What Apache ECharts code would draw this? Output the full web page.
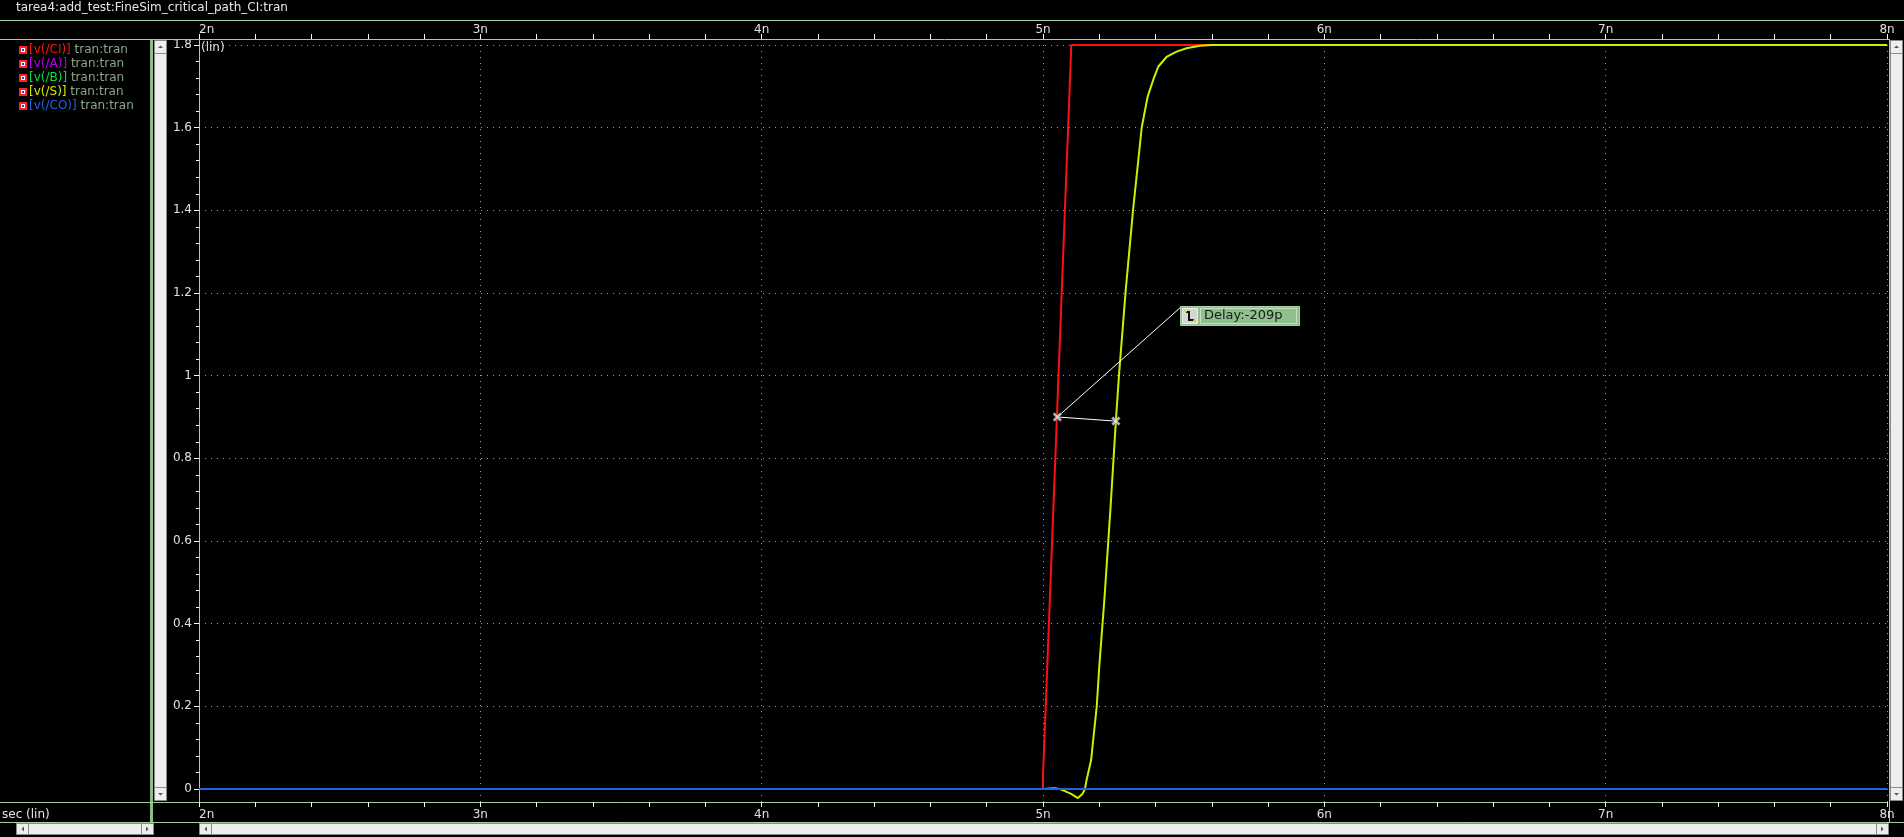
<!DOCTYPE html>
<html>
<head>
<meta charset="utf-8">
<title>tarea4:add_test:FineSim_critical_path_CI:tran</title>
<script src="https://cdn.jsdelivr.net/npm/echarts@6/dist/echarts.min.js"></script>
<style>
html, body { margin: 0; padding: 0; background: #000; }
#chart { width: 1904px; height: 837px; }
</style>
</head>
<body>
<div id="chart"></div>
<script>
// values (time in ns, volts)
var titleText = 'tarea4:add_test:FineSim_critical_path_CI:tran';
var xTicks = [2, 3, 4, 5, 6, 7, 8];
var yTicks = [0, 0.2, 0.4, 0.6, 0.8, 1, 1.2, 1.4, 1.6, 1.8];

var sigNames = ['v(/CI)', 'v(/A)', 'v(/B)', 'v(/S)', 'v(/CO)'];
var sigColors = ['#ff1010', '#b400f0', '#00e050', '#d2ee00', '#1e64e6'];
var sigSuffix = 'tran:tran';

var ciT = [2, 5.0, 5.0, 5.1006, 8];
var ciV = [0, 0, 0.03, 1.8, 1.8];
var aT = [2, 8];
var aV = [0, 0];
var bT = [2, 8];
var bV = [0, 0];
var sT = [2, 5.0, 5.04, 5.06, 5.078, 5.10, 5.124, 5.14, 5.149, 5.155, 5.171, 5.181, 5.191, 5.200, 5.209, 5.218, 5.24, 5.259, 5.270, 5.294, 5.32, 5.351, 5.372, 5.392, 5.41, 5.439, 5.475, 5.51, 5.558, 5.6, 8];
var sV = [0, 0, 0.002, 0, -0.005, -0.012, -0.022, -0.012, 0, 0.022, 0.07, 0.135, 0.2, 0.296, 0.377, 0.457, 0.68, 0.89, 1.0, 1.207, 1.40, 1.601, 1.675, 1.716, 1.748, 1.771, 1.784, 1.792, 1.798, 1.8, 1.8];
var coT = [2, 8];
var coV = [0, 0];

// delay measurement
var delayT = [5.051, 5.259];
var delayV = [0.9, 0.89];
var delayLabelAt = [5.487, 1.164];
var delayText = 'Delay:-209p';

var green = '#a3cfa0';
var font = 'DejaVu Sans';

function pairs(t, v) {
    var out = [];
    for (var i = 0; i < t.length; i++) out.push([t[i], v[i]]);
    return out;
}

var yMinor = [];
for (var i = 1; i < 46; i++) {
    if (i % 5 != 0) yMinor.push(+(i * 0.04).toFixed(2));
}

var chart = echarts.init(document.getElementById('chart'));

var sigData = [pairs(ciT, ciV), pairs(aT, aV), pairs(bT, bV), pairs(sT, sV), pairs(coT, coV)];
var series = [];
for (var k = 0; k < sigNames.length; k++) {
    series.push({
        name: sigNames[k],
        type: 'line',
        data: sigData[k],
        showSymbol: false,
        animation: false,
        lineStyle: { color: sigColors[k], width: 2 },
        itemStyle: { color: sigColors[k] },
        z: 3 + k
    });
}
// delay marker lines: label corner -> first cross -> second cross
series.push({
    type: 'line',
    data: [delayLabelAt, [delayT[0], delayV[0]], [delayT[1], delayV[1]]],
    showSymbol: false,
    animation: false,
    lineStyle: { color: '#ffffff', width: 1 },
    z: 10
});
series.push({
    type: 'scatter',
    data: pairs(delayT, delayV),
    symbol: 'path://M2,0 L5,3 L8,0 L10,2 L7,5 L10,8 L8,10 L5,7 L2,10 L0,8 L3,5 L0,2 Z',
    symbolSize: 9,
    animation: false,
    itemStyle: { color: '#e6e6e6', borderColor: '#666', borderWidth: 0.5 },
    z: 11
});

var axisLabelStyle = { color: '#e0e0e0', fontSize: 12, fontFamily: font };

var option = {
    backgroundColor: '#000',
    animation: false,
    grid: { left: 199, right: 17, top: 39, bottom: 35 },
    xAxis: [
        {
            type: 'value', position: 'top', min: 2, max: 8, interval: 1,
            axisLine: { show: false, onZero: false },
            axisTick: { show: true, length: 5, lineStyle: { color: '#ffffff' } },
            minorTick: { show: true, splitNumber: 5, length: 5, lineStyle: { color: '#ffffff' } },
            axisLabel: Object.assign({ margin: 3, alignMinLabel: 'left', formatter: function (v) { return v + 'n'; } }, axisLabelStyle),
            splitLine: { show: true, lineStyle: { color: '#9a9a9a', type: [1, 5], width: 1 } }
        },
        {
            type: 'value', position: 'bottom', min: 2, max: 8, interval: 1,
            axisLine: { show: true, onZero: false, lineStyle: { color: green, width: 1 } },
            axisTick: { show: true, length: 5, lineStyle: { color: '#ffffff', width: 1 } },
            minorTick: { show: true, splitNumber: 5, length: 5, lineStyle: { color: '#ffffff', width: 1 } },
            axisLabel: Object.assign({ margin: 7, alignMinLabel: 'left', formatter: function (v) { return v + 'n'; } }, axisLabelStyle),
            splitLine: { show: false },
            z: 5
        }
    ],
    yAxis: [
        {
            type: 'value', min: -0.0315, max: 1.8145,
            axisLine: { show: true, onZero: false, lineStyle: { color: green, width: 1 } },
            axisTick: { show: true, length: 5, customValues: yTicks, lineStyle: { color: '#ffffff' } },
            axisLabel: Object.assign({ margin: 7, customValues: yTicks }, axisLabelStyle),
            splitLine: { show: true, lineStyle: { color: '#9a9a9a', type: [1, 5], width: 1 } }
        },
        {
            type: 'value', position: 'left', min: -0.0315, max: 1.8145,
            axisLine: { show: false, onZero: false },
            axisTick: { show: true, length: 3, customValues: yMinor, lineStyle: { color: '#ffffff' } },
            axisLabel: { show: false },
            splitLine: { show: false }
        }
    ],
    series: series
};

// window chrome: title, separators, legend, scrollbars
var g = [];
g.push({ type: 'text', left: 16, top: 2, style: { text: titleText, fill: '#e6e6e6', font: '12px "DejaVu Sans"' } });
function hline(y, x1, x2) {
    g.push({ type: 'line', shape: { x1: x1, y1: y + 0.5, x2: x2, y2: y + 0.5 }, style: { stroke: green, lineWidth: 1 }, z: 1 });
}
hline(20, 0, 1904);
hline(39, 0, 1889);
hline(802, 0, 199);
hline(822, 0, 1904);
g.push({ type: 'rect', shape: { x: 150, y: 39, width: 3, height: 783 }, style: { fill: '#8fbc8a' } });
g.push({ type: 'line', shape: { x1: 1889.5, y1: 39, x2: 1889.5, y2: 822 }, style: { stroke: green, lineWidth: 1 } });
g.push({ type: 'text', left: 201, top: 42, style: { text: '(lin)', fill: '#e0e0e0', font: '12px "DejaVu Sans"' }, z: 20 });
g.push({ type: 'text', left: 2, top: 809, style: { text: 'sec (lin)', fill: '#e6e6e6', font: '12px "DejaVu Sans"' } });

function vscroll(x) {
    g.push({ type: 'rect', shape: { x: x + 0.5, y: 40.5, width: 12, height: 760 }, style: { fill: '#eeeeee', stroke: '#8a8a8a', lineWidth: 1 } });
    g.push({ type: 'line', shape: { x1: x, y1: 53.5, x2: x + 13, y2: 53.5 }, style: { stroke: '#8a8a8a' } });
    g.push({ type: 'line', shape: { x1: x, y1: 787.5, x2: x + 13, y2: 787.5 }, style: { stroke: '#8a8a8a' } });
    g.push({ type: 'polygon', shape: { points: [[x + 4, 48], [x + 9, 48], [x + 6.5, 45.5]] }, style: { fill: '#555' } });
    g.push({ type: 'polygon', shape: { points: [[x + 4, 793], [x + 9, 793], [x + 6.5, 795.5]] }, style: { fill: '#555' } });
}
vscroll(154);
vscroll(1890);

function hscroll(x1, x2) {
    g.push({ type: 'rect', shape: { x: x1 + 0.5, y: 823.5, width: x2 - x1, height: 11 }, style: { fill: '#eeeeee', stroke: '#8a8a8a', lineWidth: 1 } });
    g.push({ type: 'line', shape: { x1: x1 + 12.5, y1: 824, x2: x1 + 12.5, y2: 835 }, style: { stroke: '#8a8a8a' } });
    g.push({ type: 'line', shape: { x1: x2 - 11.5, y1: 824, x2: x2 - 11.5, y2: 835 }, style: { stroke: '#8a8a8a' } });
    g.push({ type: 'polygon', shape: { points: [[x1 + 8, 826.5], [x1 + 8, 831.5], [x1 + 5.5, 829]] }, style: { fill: '#555' } });
    g.push({ type: 'polygon', shape: { points: [[x2 - 7, 826.5], [x2 - 7, 831.5], [x2 - 4.5, 829]] }, style: { fill: '#555' } });
}
hscroll(16, 153);
hscroll(199, 1888);

for (var j = 0; j < sigNames.length; j++) {
    var yy = 44 + j * 14;
    g.push({ type: 'rect', shape: { x: 19, y: yy + 2, width: 8, height: 8 }, style: { fill: '#ff2020' } });
    g.push({ type: 'rect', shape: { x: 21, y: yy + 4, width: 4, height: 4 }, style: { fill: '#ffffff' } });
    g.push({ type: 'rect', shape: { x: 22, y: yy + 5, width: 2, height: 2 }, style: { fill: '#1e40d0' } });
    g.push({
        type: 'text', left: 29, top: yy,
        style: {
            text: '{n|[' + sigNames[j] + ']} {t|' + sigSuffix + '}',
            font: '12px "DejaVu Sans"',
            rich: {
                n: { fill: sigColors[j], fontSize: 12, fontFamily: font },
                t: { fill: '#88a886', fontSize: 12, fontFamily: font }
            }
        }
    });
}
option.graphic = g;
chart.setOption(option);

// delay label box, placed from its data anchor
var p = chart.convertToPixel({ xAxisIndex: 0, yAxisIndex: 0 }, delayLabelAt);
var bx = Math.round(p[0]), by = Math.round(p[1]) - 2;
g.push({ type: 'rect', shape: { x: bx + 0.5, y: by + 0.5, width: 119, height: 19 }, style: { fill: '#8fbf8c', stroke: '#a8d4a4' }, z: 30 });
g.push({ type: 'rect', shape: { x: bx + 20.5, y: by + 2.5, width: 96, height: 15 }, style: { fill: 'none', stroke: '#c4e4c0' }, z: 31 });
g.push({ type: 'rect', shape: { x: bx + 2.5, y: by + 2.5, width: 15, height: 15 }, style: { fill: '#d6d6d6', stroke: '#eeeeee' }, z: 31 });
g.push({ type: 'polyline', shape: { points: [[bx + 6, by + 6], [bx + 9, by + 6], [bx + 9, by + 14], [bx + 14, by + 14]] }, style: { stroke: '#111', lineWidth: 2, fill: 'none' }, z: 32 });
g.push({ type: 'circle', shape: { cx: bx + 5.5, cy: by + 5.5, r: 1.3 }, style: { fill: '#e8e000' }, z: 33 });
g.push({ type: 'circle', shape: { cx: bx + 14.5, cy: by + 14.5, r: 1.3 }, style: { fill: '#e8e000' }, z: 33 });
g.push({ type: 'text', left: bx + 24, top: by + 3, style: { text: delayText, fill: '#1a1a1a', font: '13px "DejaVu Sans"' }, z: 33 });
chart.setOption({ graphic: g });
</script>
</body>
</html>
